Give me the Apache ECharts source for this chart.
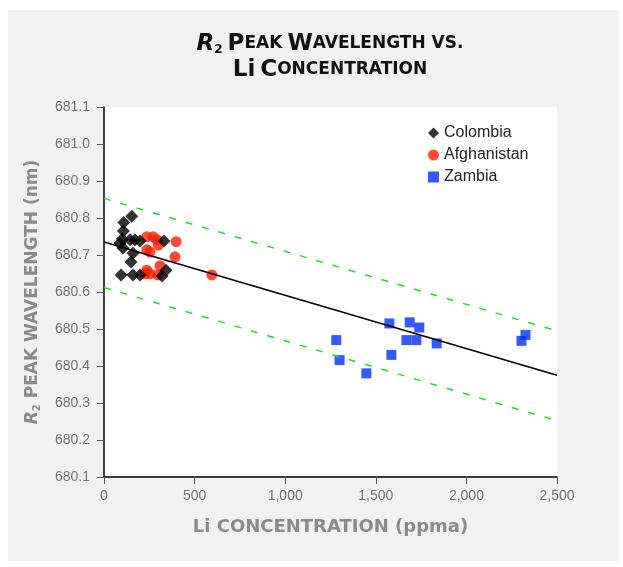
<!DOCTYPE html>
<html>
<head>
<meta charset="utf-8">
<script src="https://cdn.jsdelivr.net/npm/echarts@6/dist/echarts.min.js"></script>
<style>
  html, body { margin: 0; padding: 0; background: #ffffff; }
  #panel { position: absolute; left: 8px; top: 10px; width: 611px; height: 551px; background: #f1f1f1; }
  #chart { position: absolute; left: 0; top: 0; width: 623px; height: 567px; }
</style>
</head>
<body>
<div id="panel"></div>
<div id="chart"></div>
<script>
// ---- data ----
const colombiaX = [153, 109, 107, 101, 88, 105, 160, 149, 94, 160, 199, 144, 171, 199, 331, 342, 320];
const colombiaY = [680.805, 680.788, 680.765, 680.743, 680.732, 680.719, 680.705, 680.681, 680.646, 680.646, 680.646, 680.741, 680.741, 680.738, 680.738, 680.659, 680.643];

const afghanX = [236, 271, 293, 300, 236, 254, 398, 392, 309, 236, 227, 254, 297, 595];
const afghanY = [680.749, 680.749, 680.741, 680.727, 680.714, 680.708, 680.736, 680.695, 680.671, 680.659, 680.649, 680.649, 680.646, 680.646];

const zambiaX = [1282, 1300, 1448, 1575, 1586, 1669, 1687, 1724, 1740, 1836, 2304, 2326];
const zambiaY = [680.470, 680.416, 680.380, 680.515, 680.430, 680.470, 680.518, 680.470, 680.504, 680.461, 680.468, 680.484];

// regression line and prediction band endpoints
const fitX = [0, 2500];
const fitY = [680.735, 680.375];
const upperY = [680.853, 680.495];
const lowerY = [680.612, 680.252];

const xTicks = [0, 500, 1000, 1500, 2000, 2500];
const yTicks = [680.1, 680.2, 680.3, 680.4, 680.5, 680.6, 680.7, 680.8, 680.9, 681.0, 681.1];

const zip = (xs, ys) => xs.map((x, i) => [x, ys[i]]);

const chart = echarts.init(document.getElementById('chart'), null, { renderer: 'canvas' });
const titleFont = '"DejaVu Sans", "Open Sans", sans-serif';
const labelFont = '"Liberation Sans", Arial, sans-serif';

const option = {
  backgroundColor: 'transparent',
  animation: false,
  title: {
    left: 325,
    textAlign: 'center',
    top: 26,
    padding: 5,
    text: '{ri|R}{sub|2} {big|P}{sm|EAK} {big|W}{sm|AVELENGTH VS.}\n{big|L}{lo|i} {big|C}{sm|ONCENTRATION}',
    textStyle: {
      rich: {
        ri: { fontFamily: titleFont, fontWeight: 'bold', fontStyle: 'italic', fontSize: 23, color: '#111', lineHeight: 26 },
        sub: { fontFamily: titleFont, fontWeight: 'bold', fontSize: 12, color: '#111', padding: [12, 0, 0, 0], lineHeight: 26 },
        big: { fontFamily: titleFont, fontWeight: 'bold', fontSize: 23, color: '#111', lineHeight: 26 },
        lo: { fontFamily: titleFont, fontWeight: 'bold', fontSize: 23, color: '#111', lineHeight: 26 },
        sm: { fontFamily: titleFont, fontWeight: 'bold', fontSize: 17, color: '#111', lineHeight: 26 }
      }
    }
  },
  legend: {
    orient: 'vertical',
    left: 423,
    top: 120,
    itemWidth: 11,
    itemHeight: 11,
    itemGap: 6,
    textStyle: { fontFamily: labelFont, fontSize: 16, color: '#222' },
    data: ['Colombia', 'Afghanistan', 'Zambia']
  },
  grid: {
    left: 104, right: 66, top: 107, bottom: 90,
    show: true, backgroundColor: '#ffffff', borderWidth: 0
  },
  xAxis: {
    type: 'value',
    min: 0, max: 2500, interval: 500,
    name: 'Li CONCENTRATION (ppma)',
    nameLocation: 'middle',
    nameGap: 41,
    nameTextStyle: { fontFamily: titleFont, fontWeight: 'bold', fontSize: 18, color: '#8a8a8a' },
    axisLine: { lineStyle: { color: '#000', width: 1.5 } },
    axisTick: { show: true, length: 7, lineStyle: { color: '#555' } },
    axisLabel: {
      margin: 12, fontFamily: labelFont, fontSize: 14, color: '#737373',
      formatter: v => xTicks.includes(v) ? v.toLocaleString('en-US') : ''
    },
    splitLine: { show: false }
  },
  yAxis: {
    type: 'value',
    min: 680.1, max: 681.1, interval: 0.1,
    name: '{ri|R}{sub|2}{t| PEAK WAVELENGTH (nm)}',
    nameLocation: 'middle',
    nameGap: 62,
    nameRotate: 90,
    nameTextStyle: {
      rich: {
        ri: { fontFamily: titleFont, fontWeight: 'bold', fontStyle: 'italic', fontSize: 17, color: '#8a8a8a' },
        sub: { fontFamily: titleFont, fontWeight: 'bold', fontSize: 10, color: '#8a8a8a', padding: [9, 0, 0, 0] },
        t: { fontFamily: titleFont, fontWeight: 'bold', fontSize: 17, color: '#8a8a8a' }
      }
    },
    axisLine: { show: true, lineStyle: { color: '#000', width: 1.5 } },
    axisTick: { show: true, length: 7, lineStyle: { color: '#555' } },
    axisLabel: {
      margin: 14, fontFamily: labelFont, fontSize: 14, color: '#737373',
      formatter: v => {
        const r = Math.round(v * 10) / 10;
        return yTicks.some(t => Math.abs(t - r) < 1e-6) ? r.toFixed(1) : '';
      }
    },
    splitLine: { show: false }
  },
  series: [
    {
      name: 'Colombia', type: 'scatter', symbol: 'diamond', symbolSize: 13,
      itemStyle: { color: '#000000' }, data: zip(colombiaX, colombiaY), z: 3
    },
    {
      name: 'Afghanistan', type: 'scatter', symbol: 'circle', symbolSize: 11,
      itemStyle: { color: '#ff1e00' }, data: zip(afghanX, afghanY), z: 2
    },
    {
      name: 'Zambia', type: 'scatter', symbol: 'rect', symbolSize: 10,
      itemStyle: { color: '#0030ff' }, data: zip(zambiaX, zambiaY), z: 2
    },
    {
      name: 'fit', type: 'line', data: zip(fitX, fitY), symbol: 'none',
      lineStyle: { color: '#000', width: 1.5 }, z: 5, silent: true
    },
    {
      name: 'upper', type: 'line', data: zip(fitX, upperY), symbol: 'none',
      lineStyle: { color: '#22dd22', width: 1.5, type: [7, 10] }, z: 5, silent: true
    },
    {
      name: 'lower', type: 'line', data: zip(fitX, lowerY), symbol: 'none',
      lineStyle: { color: '#22dd22', width: 1.5, type: [7, 10] }, z: 5, silent: true
    }
  ]
};
chart.setOption(option);
</script>
</body>
</html>
